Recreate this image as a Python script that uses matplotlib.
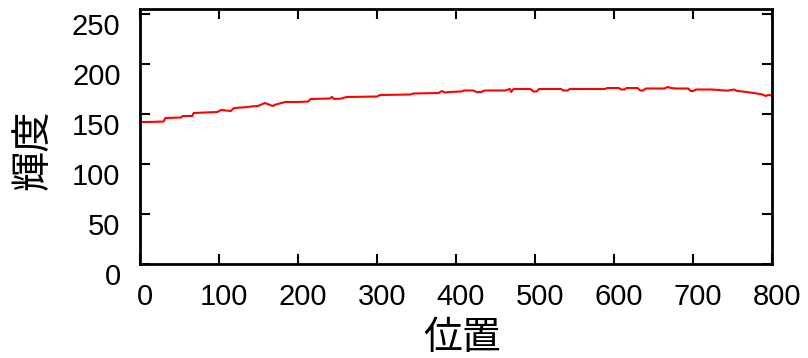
import matplotlib
matplotlib.use("Agg")
import matplotlib.pyplot as plt
import matplotlib.transforms as mtransforms

plt.rcParams['font.family'] = ['Liberation Sans', 'Noto Sans CJK JP', 'DejaVu Sans']

# position / brightness
pos = [0, 3, 10, 30, 32, 52, 54, 66, 68, 98, 100, 103, 115, 118, 120, 137, 140,
       149, 152, 158, 163, 168, 172, 179, 184, 200, 213, 216, 240, 243, 246, 256,
       259, 262, 300, 304, 342, 346, 378, 382, 386, 392, 407, 410, 422, 426, 432,
       436, 462, 466, 468, 470, 472, 474, 494, 498, 502, 505, 533, 536, 541, 544,
       588, 592, 606, 609, 613, 616, 630, 633, 637, 640, 664, 668, 672, 679, 694,
       697, 700, 704, 724, 740, 745, 752, 756, 763, 772, 781, 788, 792, 795, 800]
bright = [141, 142, 142, 142.5, 146, 146.5, 148, 148, 151, 152, 153, 154, 153,
          155.5, 156, 157, 157.5, 158, 159, 161, 159.5, 158, 159.5, 161, 162, 162,
          162.5, 165, 165.5, 167, 165, 165.5, 166.5, 167, 167.5, 169, 169.5, 170.5,
          171, 173, 171.5, 172, 172.5, 173.5, 173.5, 172, 172, 173.5, 173.5, 174.5,
          175, 172, 174.5, 175, 175, 172.5, 172.5, 175, 175, 173.5, 173.5, 175,
          175, 176, 176, 174.5, 174.5, 176, 176, 173.5, 173.5, 175.5, 175.5, 177,
          176, 175.5, 175.5, 173, 173, 174.5, 174.5, 173.5, 173.5, 174.5, 173,
          172.5, 171.5, 170.5, 169.5, 168, 169, 168.5]
xticks = [0, 100, 200, 300, 400, 500, 600, 700, 800]
yticks = [0, 50, 100, 150, 200, 250]

W, H = 808, 358
fig = plt.figure(figsize=(W / 100, H / 100), dpi=100)
ax = fig.add_axes([140 / W, 1 - 264 / H, (772 - 140) / W, (264 - 9) / H])

ax.plot(pos, bright, color='red', lw=1.5)

ax.set_xlim(0, 800)
ax.set_ylim(0, 255)
ax.set_xticks(xticks)
ax.set_yticks(yticks)
ax.tick_params(direction='in', length=7, width=1.5, top=True, right=True,
               labelsize=21, pad=14)
for s in ax.spines.values():
    s.set_linewidth(2)

# gnuplot-like label offsets
dx = mtransforms.ScaledTranslation(5 / 100, 0, fig.dpi_scale_trans)
dy = mtransforms.ScaledTranslation(0, -10 / 100, fig.dpi_scale_trans)
for lab in ax.get_xticklabels():
    lab.set_transform(lab.get_transform() + dx)
for lab in ax.get_yticklabels():
    lab.set_transform(lab.get_transform() + dy)

fig.text(462 / W, 1 - 338 / H, '位置', ha='center', va='center', fontsize=28,
         family=['Noto Sans CJK JP'])
fig.text(33 / W, 1 - 150 / H, '輝度', ha='center', va='center', fontsize=29,
         rotation=90, family=['Noto Sans CJK JP'])

fig.savefig('out.png', dpi=100)
